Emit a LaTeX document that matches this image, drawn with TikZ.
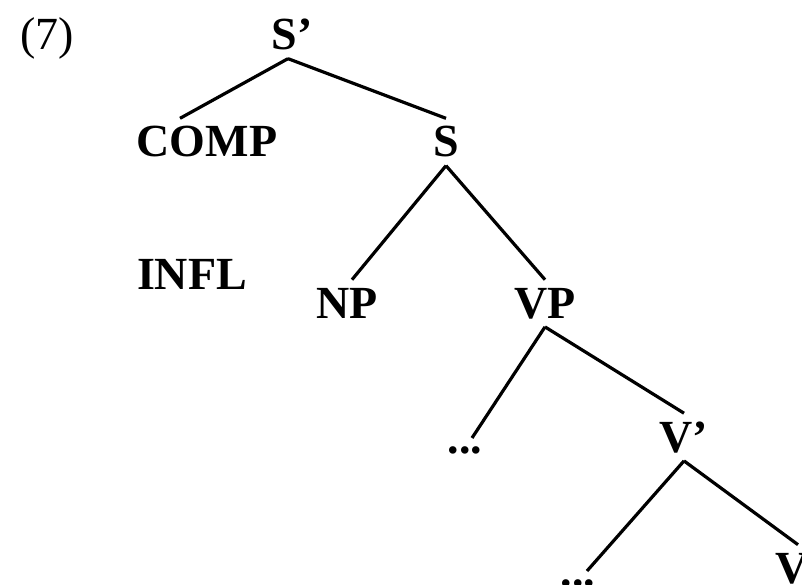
\documentclass[tikz,border=0pt]{standalone}
\usepackage{fontspec}
\setmainfont{Liberation Serif}
\usepackage{tikz}
\usetikzlibrary{positioning}

\begin{document}
\begin{tikzpicture}[x=1pt, y=-1pt,
    lbl/.style={font=\fontsize{46}{50}\selectfont\bfseries, inner sep=8pt, anchor=base},
    branch/.style={line width=3.2pt}]

% Рамка
\useasboundingbox (0,0) rectangle (802,585);
\clip (0,0) rectangle (802,585);

% Метки узлов
\node[lbl, font=\fontsize{46}{50}\selectfont] (ex) at (47,50) {(7)};
\node[lbl] (sp) at (292,50) {S’};
\node[lbl] (comp) at (207,157) {COMP};
\node[lbl] (s) at (446,157) {S};
\node[lbl] (infl) at (192,289) {INFL};
\node[lbl] (np) at (347,318) {NP};
\node[lbl] (vp) at (545,318) {VP};
\node[lbl] (d1) at (465,453) {...};
\node[lbl] (vb) at (684,452) {V’};
\node[lbl] (d2) at (578,586) {...};
\node[lbl] (v) at (792,583) {V};

% Ветви
\draw[branch] ([xshift=-4pt]sp.south) -- ([xshift=-27pt]comp.north);
\draw[branch] ([xshift=-4pt]sp.south) -- (s.north);
\draw[branch] (s.south) -- ([xshift=5pt]np.north);
\draw[branch] (s.south) -- (vp.north);
\draw[branch] (vp.south) -- ([xshift=7pt]d1.north);
\draw[branch] (vp.south) -- (vb.north);
\draw[branch] (vb.south) -- ([xshift=9pt]d2.north);
\draw[branch] (vb.south) -- ([xshift=6pt]v.north);

\end{tikzpicture}
\end{document}
